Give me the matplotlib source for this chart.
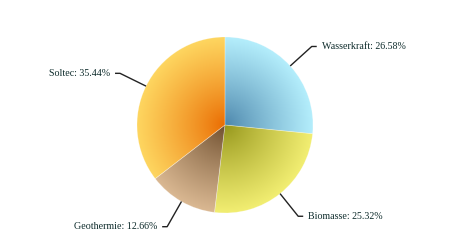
import numpy as np
import matplotlib
matplotlib.use("Agg")
import matplotlib.pyplot as plt
from matplotlib.colors import to_rgb

labels = ["Wasserkraft", "Biomasse", "Geothermie", "Soltec"]
values = [26.58, 25.32, 12.66, 35.44]
inner_colors = ["#4a84aa", "#94951a", "#6c4c2c", "#ea6a00"]
outer_colors = ["#b4eefc", "#f2ee72", "#dab892", "#fed660"]

W, H = 450, 250
cx, cy, R = 225, 125, 88

fig = plt.figure(figsize=(W / 100, H / 100), dpi=100)
ax = fig.add_axes([0, 0, 1, 1])
wedges, _ = ax.pie(values, startangle=90, counterclock=False, radius=R,
                   center=(cx, cy), colors=["none"] * 4,
                   wedgeprops=dict(linewidth=0))
ax.set_xlim(0, W)
ax.set_ylim(0, H)
ax.set_aspect("equal")
ax.axis("off")

N = 400
xs = np.linspace(-R, R, N)
X, Y = np.meshgrid(xs, xs)
t = np.clip(np.sqrt(X ** 2 + Y ** 2) / R, 0, 1) ** 0.85
for w, ci, co in zip(wedges, inner_colors, outer_colors):
    a = np.array(to_rgb(ci))
    b = np.array(to_rgb(co))
    img = a[None, None, :] * (1 - t[..., None]) + b[None, None, :] * t[..., None]
    im = ax.imshow(img, extent=[cx - R, cx + R, cy - R, cy + R], origin="lower",
                   interpolation="bilinear", zorder=1)
    im.set_clip_path(w)
    w.set_zorder(2)
    w.set_edgecolor((1, 1, 1, 0.3))
    w.set_linewidth(0.5)

ax.set_xlim(0, W)
ax.set_ylim(0, H)

for w, lab, v in zip(wedges, labels, values):
    mid = np.deg2rad((w.theta1 + w.theta2) / 2)
    x0, y0 = cx + R * np.cos(mid), cy + R * np.sin(mid)
    x1, y1 = cx + 117 * np.cos(mid), cy + 117 * np.sin(mid)
    side = 1 if np.cos(mid) > 0 else -1
    x2 = x1 + side * 5
    ax.plot([x0, x1, x2], [y0, y1, y1], color="#222222", lw=1, zorder=3,
            solid_capstyle="butt")
    ax.text(x2 + side * 5, y1, f"{lab}: {v:.2f}%", ha="left" if side > 0 else "right",
            va="center", fontsize=7.2, family="Liberation Serif", color="#0d2b2b")

fig.savefig("out.png", dpi=100)
